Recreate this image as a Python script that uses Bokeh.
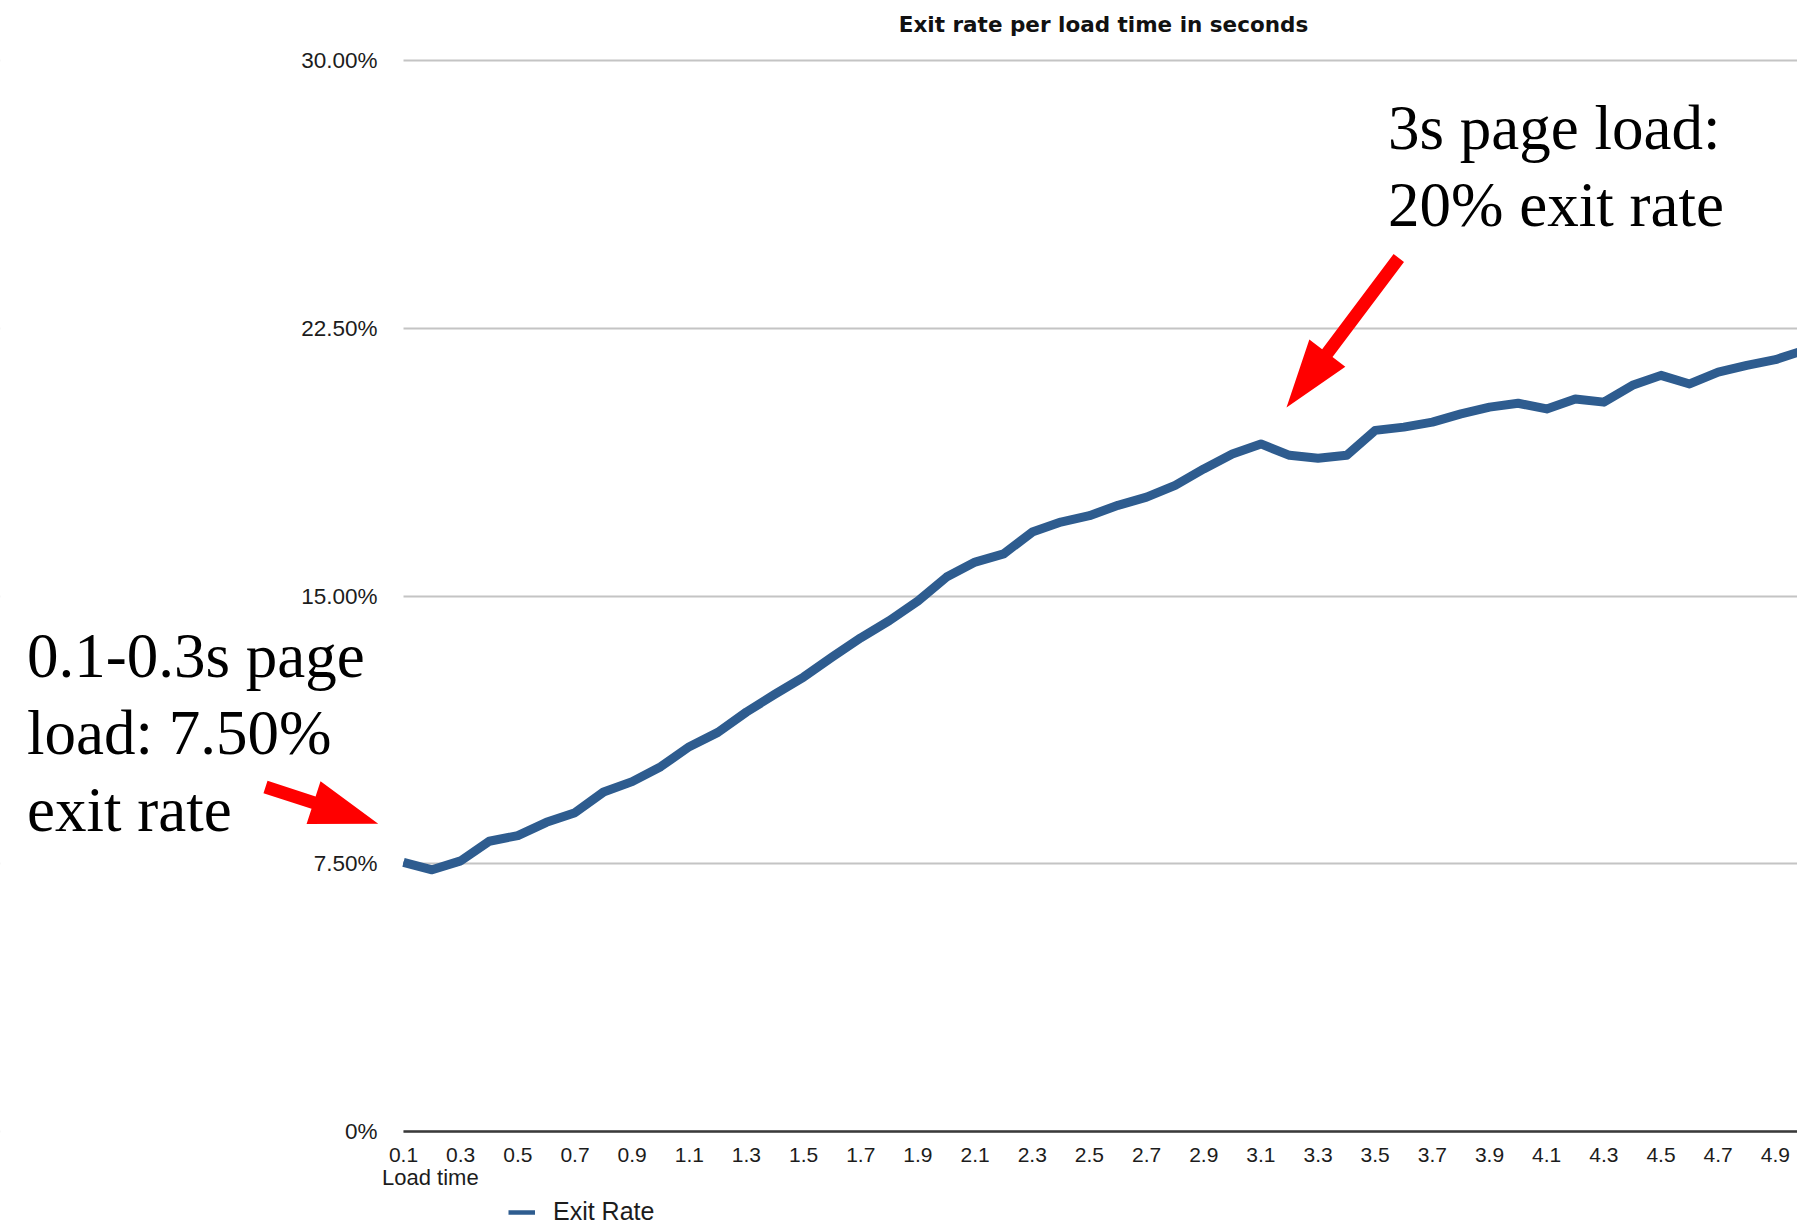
import math
from bokeh.plotting import figure
from bokeh.models import (Range1d, FixedTicker, Label, PolyAnnotation,
                          BoxAnnotation, Legend, LegendItem)
from bokeh.embed import file_html
from bokeh.resources import INLINE

# ---------------- data ----------------
load_time = [0.1, 0.2, 0.3, 0.4, 0.5, 0.6, 0.7, 0.8, 0.9, 1.0,
             1.1, 1.2, 1.3, 1.4, 1.5, 1.6, 1.7, 1.8, 1.9, 2.0,
             2.1, 2.2, 2.3, 2.4, 2.5, 2.6, 2.7, 2.8, 2.9, 3.0,
             3.1, 3.2, 3.3, 3.4, 3.5, 3.6, 3.7, 3.8, 3.9, 4.0,
             4.1, 4.2, 4.3, 4.4, 4.5, 4.6, 4.7, 4.8, 4.9, 5.0]
exit_rate = [7.54, 7.33, 7.58, 8.13, 8.29, 8.66, 8.93, 9.51, 9.80, 10.22,
             10.78, 11.18, 11.75, 12.25, 12.73, 13.29, 13.83, 14.31, 14.86, 15.53,
             15.95, 16.18, 16.79, 17.07, 17.25, 17.54, 17.77, 18.10, 18.56, 18.98,
             19.26, 18.94, 18.86, 18.94, 19.64, 19.73, 19.87, 20.10, 20.29, 20.40,
             20.24, 20.52, 20.43, 20.90, 21.18, 20.94, 21.27, 21.46, 21.62, 21.88]

x_tick_values = [0.1, 0.3, 0.5, 0.7, 0.9, 1.1, 1.3, 1.5, 1.7, 1.9, 2.1, 2.3,
                 2.5, 2.7, 2.9, 3.1, 3.3, 3.5, 3.7, 3.9, 4.1, 4.3, 4.5, 4.7, 4.9]
x_tick_labels = ["0.1", "0.3", "0.5", "0.7", "0.9", "1.1", "1.3", "1.5", "1.7",
                 "1.9", "2.1", "2.3", "2.5", "2.7", "2.9", "3.1", "3.3", "3.5",
                 "3.7", "3.9", "4.1", "4.3", "4.5", "4.7", "4.9"]
y_tick_values = [0, 7.5, 15, 22.5, 30]
y_tick_labels = ["0%", "7.50%", "15.00%", "22.50%", "30.00%"]

series_name = "Exit Rate"
chart_title = "Exit rate per load time in seconds"
x_axis_title = "Load time"
note_fast = ["0.1-0.3s page", "load: 7.50%", "exit rate"]
note_slow = ["3s page load:", "20% exit rate"]

# ---------------- layout ----------------
W, H = 1797, 1225
AXIS_LEFT_PX, AXIS_BOTTOM_PX = 403, 1131   # where x=0.1 and y=0 sit
PX_PER_X = 285.8
PX_PER_Y = 35.7
X0 = 0.1
BASELINE_FIX = 0.365   # label baseline correction, in em


def px2x(px):
    return X0 + (px - AXIS_LEFT_PX) / PX_PER_X


def px2y(py):
    return (AXIS_BOTTOM_PX - py) / PX_PER_Y


p = figure(width=W, height=H, title=None,
           x_range=Range1d(px2x(0), px2x(W)),
           y_range=Range1d(px2y(H), px2y(0)),
           output_backend="svg", toolbar_location=None,
           min_border_left=0, min_border_right=0,
           min_border_top=0, min_border_bottom=0)
p.outline_line_color = None
p.background_fill_color = "white"
p.border_fill_color = "white"

TXT = "#1c1c1c"
SANS = "Liberation Sans"

# axes, pinned inside the frame
p.xaxis.fixed_location = 0
p.xaxis.bounds = (X0, px2x(W))
p.xaxis.ticker = FixedTicker(ticks=x_tick_values)
p.xaxis.major_label_overrides = dict(zip(x_tick_values, x_tick_labels))
p.xaxis.axis_line_color = "#3a3a3a"
p.xaxis.axis_line_width = 2.5
p.xaxis.major_tick_line_color = None
p.xaxis.minor_tick_line_color = None
p.xaxis.major_tick_out = 0
p.xaxis.major_tick_in = 0
p.xaxis.major_label_standoff = 16
p.xaxis.major_label_text_font = SANS
p.xaxis.major_label_text_font_size = "21px"
p.xaxis.major_label_text_color = TXT

p.yaxis.fixed_location = X0
p.yaxis.bounds = (0, 30)
p.yaxis.ticker = FixedTicker(ticks=y_tick_values)
p.yaxis.major_label_overrides = dict(zip(y_tick_values, y_tick_labels))
p.yaxis.axis_line_color = None
p.yaxis.major_tick_line_color = None
p.yaxis.minor_tick_line_color = None
p.yaxis.major_tick_out = 0
p.yaxis.major_tick_in = 0
p.yaxis.major_label_standoff = 26
p.yaxis.major_label_text_font = SANS
p.yaxis.major_label_text_font_size = "22.5px"
p.yaxis.major_label_text_color = TXT

p.xgrid.visible = False
p.ygrid.ticker = FixedTicker(ticks=y_tick_values)
p.ygrid.grid_line_color = "#c4c4c4"
p.ygrid.grid_line_width = 2
# gridlines only start at the y axis: mask the margin to its left
p.add_layout(BoxAnnotation(left=px2x(-20), right=X0,
                           bottom=px2y(H + 20), top=px2y(-20),
                           fill_color="white", fill_alpha=1,
                           line_color=None, level="underlay"))

# series
LINE_COLOR = "#2e5c8f"
legend_line = p.line(load_time, exit_rate, line_width=4.5, color=LINE_COLOR)
p.line(load_time, exit_rate, line_width=9, color=LINE_COLOR, line_join="round")

legend = Legend(items=[LegendItem(label=series_name, renderers=[legend_line])],
                location=(508, H - 1226),
                border_line_color=None, background_fill_alpha=0,
                padding=0, margin=0, spacing=0,
                glyph_width=27, glyph_height=26, label_height=26,
                label_standoff=18, label_text_font=SANS,
                label_text_font_size="25px", label_text_color=TXT)
p.add_layout(legend)


def text_label(px, py, text, font, size, **kw):
    # py is the wanted baseline in pixels
    return Label(x=px2x(px), y=px2y(py - BASELINE_FIX * size), text=text,
                 text_baseline="alphabetic", text_font=font,
                 text_font_size=f"{size}px", **kw)


# title and axis caption
p.add_layout(text_label(1103, 31.7, chart_title, "DejaVu Sans", 21.5,
                        text_align="center", text_font_style="bold",
                        text_color="#111111"))
p.add_layout(text_label(381.5, 1185, x_axis_title, SANS, 22,
                        text_align="left", text_color=TXT))

# annotation texts
SERIF = "Liberation Serif"
for i, line in enumerate(note_fast):
    p.add_layout(text_label(26.5, 678 + 77 * i, line, SERIF, 63,
                            text_align="left", text_color="black"))
for i, line in enumerate(note_slow):
    p.add_layout(text_label(1387.5, 150 + 77 * i, line, SERIF, 63,
                            text_align="left", text_color="black"))


# red arrows (outline computed in pixels, converted to data units)
def arrow_outline(tail, tip, shaft_w=13, head_len=68, head_w=45):
    (x0, y0), (x1, y1) = tail, tip
    dx, dy = x1 - x0, y1 - y0
    L = math.hypot(dx, dy)
    ux, uy = dx / L, dy / L
    nx, ny = -uy, ux
    bx, by = x1 - ux * head_len, y1 - uy * head_len
    s, h = shaft_w / 2, head_w / 2
    pts = [(x0 + nx * s, y0 + ny * s), (bx + nx * s, by + ny * s),
           (bx + nx * h, by + ny * h), (x1, y1),
           (bx - nx * h, by - ny * h), (bx - nx * s, by - ny * s),
           (x0 - nx * s, y0 - ny * s)]
    return [px2x(a) for a, _ in pts], [px2y(b) for _, b in pts]


for tail, tip in [((265, 786.5), (377.7, 823.3)),
                  ((1398.3, 257.5), (1286, 407))]:
    xs, ys = arrow_outline(tail, tip)
    p.add_layout(PolyAnnotation(xs=xs, ys=ys, fill_color="#ff0000", fill_alpha=1,
                                line_color=None))

open("out.html", "w").write(file_html(p, INLINE))
